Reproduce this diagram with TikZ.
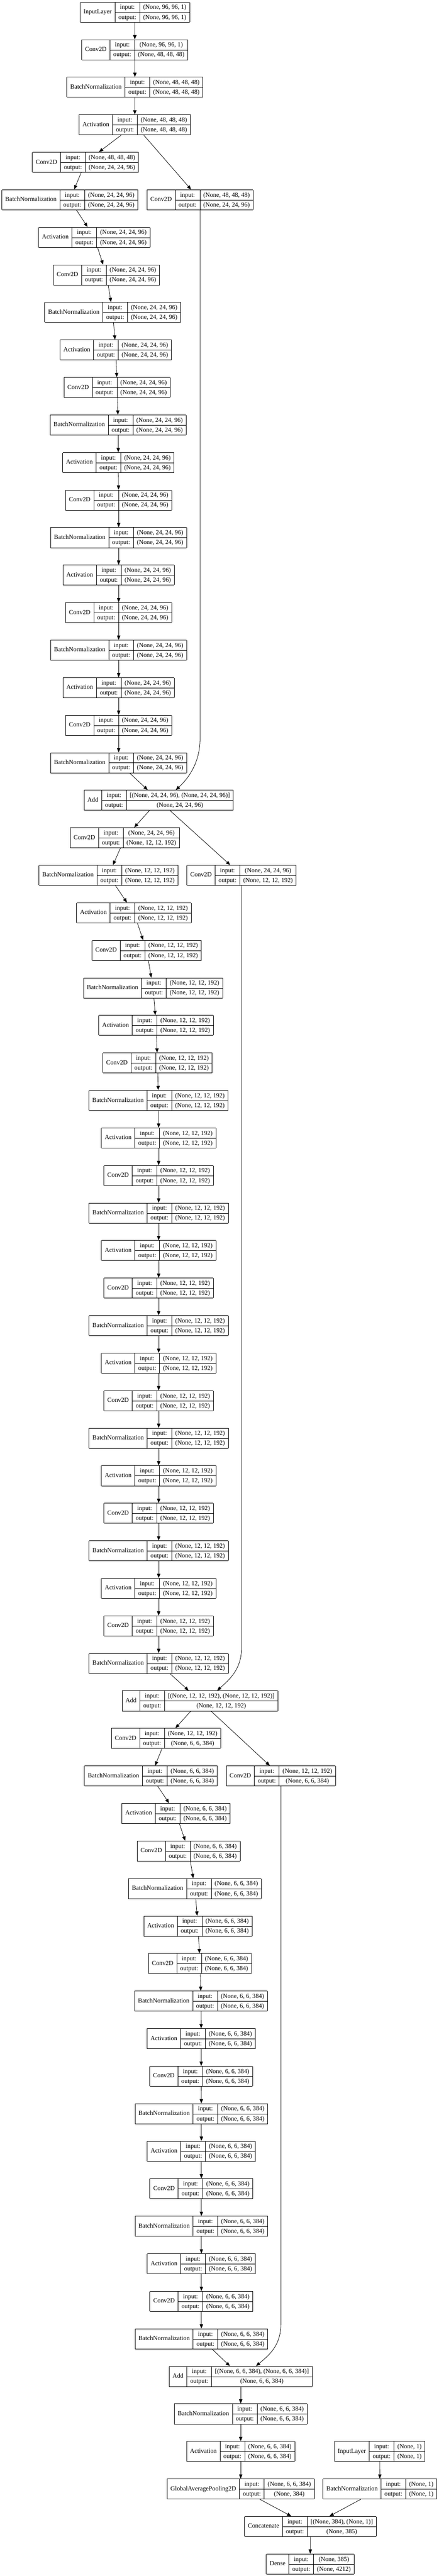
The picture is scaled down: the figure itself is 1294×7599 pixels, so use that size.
\documentclass[tikz,border=0pt]{standalone}
\usepackage{fontspec}
\setmainfont{Liberation Serif}
\usepackage{multirow}
\usetikzlibrary{arrows.meta}

% one Keras layer record: class | input:/output: | shapes
\newcommand{\layerbox}[3]{%
  \setlength{\tabcolsep}{7.5pt}\setlength{\arrayrulewidth}{1pt}%
  \renewcommand{\arraystretch}{1.28}%
  \begin{tabular}{|c|c|c|}\hline
    \multirow{2}{*}{#1} & input: & #2\\\cline{2-3}
     & output: & #3\\\hline
  \end{tabular}}

\tikzset{
  layer/.style={inner sep=0pt, outer sep=0pt, font=\fontsize{14}{17}\selectfont},
  edge/.style={-{Triangle[length=9.5pt,width=7.5pt]}, line width=0.9pt},
}

\begin{document}
\begin{tikzpicture}[x=0.75pt,y=0.75pt,yscale=-1,xscale=1]
        \useasboundingbox (0,0) rectangle (1294,7599);
        % Stem
        \node[layer] (n1) at (398,36) {\layerbox{InputLayer}{(None, 96, 96, 1)}{(None, 96, 96, 1)}};
        \node[layer] (n2) at (397.5,146.7) {\layerbox{Conv2D}{(None, 96, 96, 1)}{(None, 48, 48, 48)}};
        \node[layer] (n3) at (398,257.4) {\layerbox{BatchNormalization}{(None, 48, 48, 48)}{(None, 48, 48, 48)}};
        \node[layer] (n4) at (397.5,368.1) {\layerbox{Activation}{(None, 48, 48, 48)}{(None, 48, 48, 48)}};
        % Block 1
        \node[layer] (n5) at (252,478.8) {\layerbox{Conv2D}{(None, 48, 48, 48)}{(None, 24, 24, 96)}};
        \node[layer] (n6) at (206,589.5) {\layerbox{BatchNormalization}{(None, 24, 24, 96)}{(None, 24, 24, 96)}};
        \node[layer] (sc1) at (590,589.5) {\layerbox{Conv2D}{(None, 48, 48, 48)}{(None, 24, 24, 96)}};
        \node[layer] (n7) at (278,700.2) {\layerbox{Activation}{(None, 24, 24, 96)}{(None, 24, 24, 96)}};
        \node[layer] (n8) at (314,810.9) {\layerbox{Conv2D}{(None, 24, 24, 96)}{(None, 24, 24, 96)}};
        \node[layer] (n9) at (332.5,921.6) {\layerbox{BatchNormalization}{(None, 24, 24, 96)}{(None, 24, 24, 96)}};
        \node[layer] (n10) at (341.5,1032.3) {\layerbox{Activation}{(None, 24, 24, 96)}{(None, 24, 24, 96)}};
        \node[layer] (n11) at (345.5,1143) {\layerbox{Conv2D}{(None, 24, 24, 96)}{(None, 24, 24, 96)}};
        \node[layer] (n12) at (348.5,1253.7) {\layerbox{BatchNormalization}{(None, 24, 24, 96)}{(None, 24, 24, 96)}};
        \node[layer] (n13) at (349,1364.4) {\layerbox{Activation}{(None, 24, 24, 96)}{(None, 24, 24, 96)}};
        \node[layer] (n14) at (350,1475.1) {\layerbox{Conv2D}{(None, 24, 24, 96)}{(None, 24, 24, 96)}};
        \node[layer] (n15) at (350,1585.8) {\layerbox{BatchNormalization}{(None, 24, 24, 96)}{(None, 24, 24, 96)}};
        \node[layer] (n16) at (350,1696.5) {\layerbox{Activation}{(None, 24, 24, 96)}{(None, 24, 24, 96)}};
        \node[layer] (n17) at (350,1807.2) {\layerbox{Conv2D}{(None, 24, 24, 96)}{(None, 24, 24, 96)}};
        \node[layer] (n18) at (350,1917.9) {\layerbox{BatchNormalization}{(None, 24, 24, 96)}{(None, 24, 24, 96)}};
        \node[layer] (n19) at (350,2028.6) {\layerbox{Activation}{(None, 24, 24, 96)}{(None, 24, 24, 96)}};
        \node[layer] (n20) at (350,2139.3) {\layerbox{Conv2D}{(None, 24, 24, 96)}{(None, 24, 24, 96)}};
        \node[layer] (n21) at (350,2250) {\layerbox{BatchNormalization}{(None, 24, 24, 96)}{(None, 24, 24, 96)}};
        \node[layer] (n22) at (468,2360.7) {\layerbox{Add}{[(None, 24, 24, 96), (None, 24, 24, 96)]}{(None, 24, 24, 96)}};
        % Block 2
        \node[layer] (n23) at (368.5,2471.4) {\layerbox{Conv2D}{(None, 24, 24, 96)}{(None, 12, 12, 192)}};
        \node[layer] (n24) at (320,2582.1) {\layerbox{BatchNormalization}{(None, 12, 12, 192)}{(None, 12, 12, 192)}};
        \node[layer] (sc2) at (712.5,2582.1) {\layerbox{Conv2D}{(None, 24, 24, 96)}{(None, 12, 12, 192)}};
        \node[layer] (n25) at (395,2692.8) {\layerbox{Activation}{(None, 12, 12, 192)}{(None, 12, 12, 192)}};
        \node[layer] (n26) at (432.5,2803.5) {\layerbox{Conv2D}{(None, 12, 12, 192)}{(None, 12, 12, 192)}};
        \node[layer] (n27) at (451.5,2914.2) {\layerbox{BatchNormalization}{(None, 12, 12, 192)}{(None, 12, 12, 192)}};
        \node[layer] (n28) at (460.5,3024.9) {\layerbox{Activation}{(None, 12, 12, 192)}{(None, 12, 12, 192)}};
        \node[layer] (n29) at (464.5,3135.6) {\layerbox{Conv2D}{(None, 12, 12, 192)}{(None, 12, 12, 192)}};
        \node[layer] (n30) at (467.5,3246.3) {\layerbox{BatchNormalization}{(None, 12, 12, 192)}{(None, 12, 12, 192)}};
        \node[layer] (n31) at (468,3357) {\layerbox{Activation}{(None, 12, 12, 192)}{(None, 12, 12, 192)}};
        \node[layer] (n32) at (468,3467.7) {\layerbox{Conv2D}{(None, 12, 12, 192)}{(None, 12, 12, 192)}};
        \node[layer] (n33) at (468,3578.4) {\layerbox{BatchNormalization}{(None, 12, 12, 192)}{(None, 12, 12, 192)}};
        \node[layer] (n34) at (468,3689.1) {\layerbox{Activation}{(None, 12, 12, 192)}{(None, 12, 12, 192)}};
        \node[layer] (n35) at (468,3799.8) {\layerbox{Conv2D}{(None, 12, 12, 192)}{(None, 12, 12, 192)}};
        \node[layer] (n36) at (468,3910.5) {\layerbox{BatchNormalization}{(None, 12, 12, 192)}{(None, 12, 12, 192)}};
        \node[layer] (n37) at (468,4021.2) {\layerbox{Activation}{(None, 12, 12, 192)}{(None, 12, 12, 192)}};
        \node[layer] (n38) at (468,4131.9) {\layerbox{Conv2D}{(None, 12, 12, 192)}{(None, 12, 12, 192)}};
        \node[layer] (n39) at (468,4242.6) {\layerbox{BatchNormalization}{(None, 12, 12, 192)}{(None, 12, 12, 192)}};
        \node[layer] (n40) at (468,4353.3) {\layerbox{Activation}{(None, 12, 12, 192)}{(None, 12, 12, 192)}};
        \node[layer] (n41) at (468,4464) {\layerbox{Conv2D}{(None, 12, 12, 192)}{(None, 12, 12, 192)}};
        \node[layer] (n42) at (468,4574.7) {\layerbox{BatchNormalization}{(None, 12, 12, 192)}{(None, 12, 12, 192)}};
        \node[layer] (n43) at (468,4685.4) {\layerbox{Activation}{(None, 12, 12, 192)}{(None, 12, 12, 192)}};
        \node[layer] (n44) at (468,4796.1) {\layerbox{Conv2D}{(None, 12, 12, 192)}{(None, 12, 12, 192)}};
        \node[layer] (n45) at (468,4906.8) {\layerbox{BatchNormalization}{(None, 12, 12, 192)}{(None, 12, 12, 192)}};
        \node[layer] (n46) at (590,5017.5) {\layerbox{Add}{[(None, 12, 12, 192), (None, 12, 12, 192)]}{(None, 12, 12, 192)}};
        % Block 3
        \node[layer] (n47) at (490,5128.2) {\layerbox{Conv2D}{(None, 12, 12, 192)}{(None, 6, 6, 384)}};
        \node[layer] (n48) at (445,5238.9) {\layerbox{BatchNormalization}{(None, 6, 6, 384)}{(None, 6, 6, 384)}};
        \node[layer] (sc3) at (828.5,5238.9) {\layerbox{Conv2D}{(None, 12, 12, 192)}{(None, 6, 6, 384)}};
        \node[layer] (n49) at (519,5349.6) {\layerbox{Activation}{(None, 6, 6, 384)}{(None, 6, 6, 384)}};
        \node[layer] (n50) at (556.5,5460.3) {\layerbox{Conv2D}{(None, 6, 6, 384)}{(None, 6, 6, 384)}};
        \node[layer] (n51) at (575,5571) {\layerbox{BatchNormalization}{(None, 6, 6, 384)}{(None, 6, 6, 384)}};
        \node[layer] (n52) at (584,5681.7) {\layerbox{Activation}{(None, 6, 6, 384)}{(None, 6, 6, 384)}};
        \node[layer] (n53) at (590,5792.4) {\layerbox{Conv2D}{(None, 6, 6, 384)}{(None, 6, 6, 384)}};
        \node[layer] (n54) at (593,5903.1) {\layerbox{BatchNormalization}{(None, 6, 6, 384)}{(None, 6, 6, 384)}};
        \node[layer] (n55) at (593.5,6013.8) {\layerbox{Activation}{(None, 6, 6, 384)}{(None, 6, 6, 384)}};
        \node[layer] (n56) at (593.5,6124.5) {\layerbox{Conv2D}{(None, 6, 6, 384)}{(None, 6, 6, 384)}};
        \node[layer] (n57) at (594,6235.2) {\layerbox{BatchNormalization}{(None, 6, 6, 384)}{(None, 6, 6, 384)}};
        \node[layer] (n58) at (594,6345.9) {\layerbox{Activation}{(None, 6, 6, 384)}{(None, 6, 6, 384)}};
        \node[layer] (n59) at (594,6456.6) {\layerbox{Conv2D}{(None, 6, 6, 384)}{(None, 6, 6, 384)}};
        \node[layer] (n60) at (594,6567.3) {\layerbox{BatchNormalization}{(None, 6, 6, 384)}{(None, 6, 6, 384)}};
        \node[layer] (n61) at (594,6678) {\layerbox{Activation}{(None, 6, 6, 384)}{(None, 6, 6, 384)}};
        \node[layer] (n62) at (594,6788.7) {\layerbox{Conv2D}{(None, 6, 6, 384)}{(None, 6, 6, 384)}};
        \node[layer] (n63) at (594,6899.4) {\layerbox{BatchNormalization}{(None, 6, 6, 384)}{(None, 6, 6, 384)}};
        \node[layer] (n64) at (710,7010.1) {\layerbox{Add}{[(None, 6, 6, 384), (None, 6, 6, 384)]}{(None, 6, 6, 384)}};
        % Head
        \node[layer] (n65) at (710,7120.8) {\layerbox{BatchNormalization}{(None, 6, 6, 384)}{(None, 6, 6, 384)}};
        \node[layer] (n66) at (710,7231.5) {\layerbox{Activation}{(None, 6, 6, 384)}{(None, 6, 6, 384)}};
        \node[layer] (in2) at (1120,7231.5) {\layerbox{InputLayer}{(None, 1)}{(None, 1)}};
        \node[layer] (n67) at (710,7342.2) {\layerbox{GlobalAveragePooling2D}{(None, 6, 6, 384)}{(None, 384)}};
        \node[layer] (bn2) at (1120.5,7342.2) {\layerbox{BatchNormalization}{(None, 1)}{(None, 1)}};
        \node[layer] (n68) at (915.5,7452.9) {\layerbox{Concatenate}{[(None, 384), (None, 1)]}{(None, 385)}};
        \node[layer] (n69) at (915,7563.6) {\layerbox{Dense}{(None, 385)}{(None, 4212)}};

        % Straight Lines
        \draw[edge] (n1) -- (n2);
        \draw[edge] (n2) -- (n3);
        \draw[edge] (n3) -- (n4);
        \draw[edge] (n4) -- (n5);
        \draw[edge] (n4) -- (sc1);
        \draw[edge] (n5) -- (n6);
        \draw[edge] (n6) -- (n7);
        \draw[edge] (n7) -- (n8);
        \draw[edge] (n8) -- (n9);
        \draw[edge] (n9) -- (n10);
        \draw[edge] (n10) -- (n11);
        \draw[edge] (n11) -- (n12);
        \draw[edge] (n12) -- (n13);
        \draw[edge] (n13) -- (n14);
        \draw[edge] (n14) -- (n15);
        \draw[edge] (n15) -- (n16);
        \draw[edge] (n16) -- (n17);
        \draw[edge] (n17) -- (n18);
        \draw[edge] (n18) -- (n19);
        \draw[edge] (n19) -- (n20);
        \draw[edge] (n20) -- (n21);
        \draw[edge] (n21) -- (n22);
        \draw[edge] (n22) -- (n23);
        \draw[edge] (n22) -- (sc2);
        \draw[edge] (n23) -- (n24);
        \draw[edge] (n24) -- (n25);
        \draw[edge] (n25) -- (n26);
        \draw[edge] (n26) -- (n27);
        \draw[edge] (n27) -- (n28);
        \draw[edge] (n28) -- (n29);
        \draw[edge] (n29) -- (n30);
        \draw[edge] (n30) -- (n31);
        \draw[edge] (n31) -- (n32);
        \draw[edge] (n32) -- (n33);
        \draw[edge] (n33) -- (n34);
        \draw[edge] (n34) -- (n35);
        \draw[edge] (n35) -- (n36);
        \draw[edge] (n36) -- (n37);
        \draw[edge] (n37) -- (n38);
        \draw[edge] (n38) -- (n39);
        \draw[edge] (n39) -- (n40);
        \draw[edge] (n40) -- (n41);
        \draw[edge] (n41) -- (n42);
        \draw[edge] (n42) -- (n43);
        \draw[edge] (n43) -- (n44);
        \draw[edge] (n44) -- (n45);
        \draw[edge] (n45) -- (n46);
        \draw[edge] (n46) -- (n47);
        \draw[edge] (n46) -- (sc3);
        \draw[edge] (n47) -- (n48);
        \draw[edge] (n48) -- (n49);
        \draw[edge] (n49) -- (n50);
        \draw[edge] (n50) -- (n51);
        \draw[edge] (n51) -- (n52);
        \draw[edge] (n52) -- (n53);
        \draw[edge] (n53) -- (n54);
        \draw[edge] (n54) -- (n55);
        \draw[edge] (n55) -- (n56);
        \draw[edge] (n56) -- (n57);
        \draw[edge] (n57) -- (n58);
        \draw[edge] (n58) -- (n59);
        \draw[edge] (n59) -- (n60);
        \draw[edge] (n60) -- (n61);
        \draw[edge] (n61) -- (n62);
        \draw[edge] (n62) -- (n63);
        \draw[edge] (n63) -- (n64);
        \draw[edge] (n64) -- (n65);
        \draw[edge] (n65) -- (n66);
        \draw[edge] (n66) -- (n67);
        \draw[edge] (in2) -- (bn2);
        \draw[edge] (n67) -- (n68);
        \draw[edge] (bn2) -- (n68);
        \draw[edge] (n68) -- (n69);

        % Shortcut lines
        \coordinate (bend1) at (590,2180);
        \draw[edge] (sc1) -- (bend1) .. controls (590,2250) and (555,2297) .. (n22.31);
        \coordinate (bend2) at (712.5,4860);
        \draw[edge] (sc2) -- (bend2) .. controls (712.5,4925) and (676,4955) .. (n46.31);
        \coordinate (bend3) at (828.5,6855);
        \draw[edge] (sc3) -- (bend3) .. controls (828.5,6920) and (793,6948) .. (n64.34);
\end{tikzpicture}
\end{document}
